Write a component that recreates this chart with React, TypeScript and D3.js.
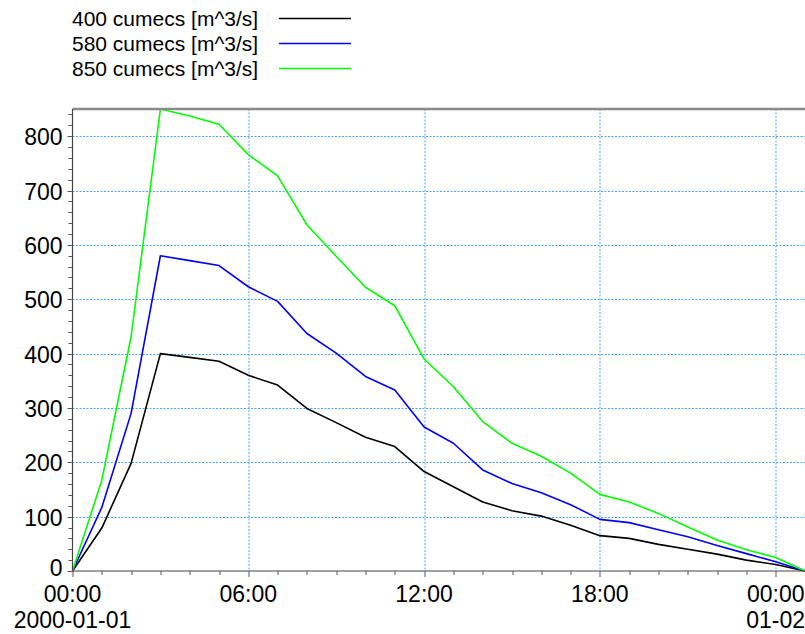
import { useMemo } from 'react'
import * as d3 from 'd3'

const WIDTH = 805
const HEIGHT = 634
const MARGIN = { top: 109, right: 0, bottom: 63, left: 72.5 }

// hours since 2000-01-01 00:00
const hours = [0, 1, 2, 3, 4, 5, 6, 7, 8, 9, 10, 11, 12, 13, 14, 15, 16, 17, 18, 19, 20, 21, 22, 23, 24, 25]

const flow400 = [0, 79, 198, 400, 393, 386, 360, 342, 299, 273, 246, 229, 183, 155, 127, 111, 101, 84, 65, 60, 49, 40, 31, 20, 12, 0]
const flow580 = [0, 117, 290, 580, 571, 562, 523, 496, 437, 401, 358, 333, 265, 235, 186, 161, 144, 122, 95, 89, 76, 63, 47, 32, 17, 0]
const flow850 = [0, 167, 431, 850, 837, 822, 766, 727, 637, 579, 522, 488, 390, 339, 275, 235, 211, 180, 141, 127, 106, 81, 57, 39, 25, 0]

const seriesNames = ['400 cumecs [m^3/s]', '580 cumecs [m^3/s]', '850 cumecs [m^3/s]']
const seriesColors = ['#000000', '#0000ff', '#00ff00']

const yTicks = [0, 100, 200, 300, 400, 500, 600, 700, 800]
const xTicks = [0, 6, 12, 18, 24]
const xTickLabels = ['00:00', '06:00', '12:00', '18:00', '00:00']
const xDateLabels = ['2000-01-01', '', '', '', '01-02']

const FONT = '"Liberation Sans", Arial, sans-serif'
const GRID = '#4aa3ff'

const App = () => {
  const boundsWidth = WIDTH - MARGIN.left - MARGIN.right
  const boundsHeight = HEIGHT - MARGIN.top - MARGIN.bottom

  const xScale = useMemo(() => d3.scaleLinear().domain([0, 25]).range([0, boundsWidth]), [boundsWidth])
  const yScale = useMemo(() => d3.scaleLinear().domain([0, 850]).range([boundsHeight, 0]), [boundsHeight])

  const line = d3
    .line<number>()
    .x((_, i) => xScale(hours[i]))
    .y((d) => yScale(d))

  const allSeries = [flow400, flow580, flow850]

  // minor ticks: every hour on x, every 20 on y
  const xMinor = d3.range(0, 26)
  const yMinor = d3.range(0, 851, 20)

  return (
    <svg
      width={WIDTH}
      height={HEIGHT}
      style={{ position: 'absolute', left: 0, top: 0, background: '#fff' }}
      fontFamily={FONT}
    >
      {/* legend */}
      {seriesNames.map((name, i) => (
        <g key={name} transform={`translate(0,${18.5 + i * 25})`}>
          <text x={72} y={0} dominantBaseline="central" fontSize={21} fill="#000">
            {name}
          </text>
          <line x1={279} x2={351} y1={0} y2={0} stroke={seriesColors[i]} strokeWidth={1.6} />
        </g>
      ))}

      <g transform={`translate(${MARGIN.left},${MARGIN.top})`}>
        {/* grid */}
        {yTicks.slice(1).map((t) => (
          <line
            key={`gy${t}`}
            x1={0}
            x2={boundsWidth}
            y1={Math.round(yScale(t)) + 0.5}
            y2={Math.round(yScale(t)) + 0.5}
            stroke={GRID}
            strokeDasharray="2,1.5"
          />
        ))}
        {xTicks.slice(1).map((t) => (
          <line
            key={`gx${t}`}
            x1={Math.round(xScale(t)) + 0.5}
            x2={Math.round(xScale(t)) + 0.5}
            y1={0}
            y2={boundsHeight}
            stroke={GRID}
            strokeDasharray="2,1.5"
          />
        ))}

        {/* series */}
        {allSeries.map((s, i) => (
          <path key={i} d={line(s) ?? ''} fill="none" stroke={seriesColors[i]} strokeWidth={1.6} strokeLinejoin="round" />
        ))}

        {/* top border */}
        <line x1={0} x2={boundsWidth} y1={0} y2={0} stroke="#8a8a8a" strokeWidth={2.5} />

        {/* y axis */}
        <line x1={0} x2={0} y1={0} y2={boundsHeight} stroke="#444" strokeWidth={1.2} />
        {yMinor.map((t) => (
          <line
            key={`ym${t}`}
            x1={t % 100 === 0 ? -5 : -4}
            x2={0}
            y1={Math.round(yScale(t)) + 0.5}
            y2={Math.round(yScale(t)) + 0.5}
            stroke="#555"
          />
        ))}
        {yTicks.map((t) => (
          <text
            key={`yl${t}`}
            x={-10}
            y={yScale(t) + (t === 0 ? -3 : 1)}
            textAnchor="end"
            dominantBaseline="central"
            fontSize={23}
            fill="#000"
          >
            {t}
          </text>
        ))}

        {/* x axis */}
        <line x1={0} x2={boundsWidth} y1={boundsHeight} y2={boundsHeight} stroke="#444" strokeWidth={1.2} />
        {xMinor.map((t) => (
          <line
            key={`xm${t}`}
            x1={Math.round(xScale(t)) + 0.5}
            x2={Math.round(xScale(t)) + 0.5}
            y1={boundsHeight}
            y2={boundsHeight + (t % 6 === 0 ? 6 : 4)}
            stroke="#555"
          />
        ))}
        {xTicks.map((t, i) => (
          <g key={`xl${t}`}>
            <text x={xScale(t)} y={boundsHeight + 31} textAnchor="middle" fontSize={23} fill="#000">
              {xTickLabels[i]}
            </text>
            {xDateLabels[i] && (
              <text x={xScale(t)} y={boundsHeight + 57} textAnchor="middle" fontSize={23} fill="#000">
                {xDateLabels[i]}
              </text>
            )}
          </g>
        ))}
      </g>
    </svg>
  )
}

export default App
